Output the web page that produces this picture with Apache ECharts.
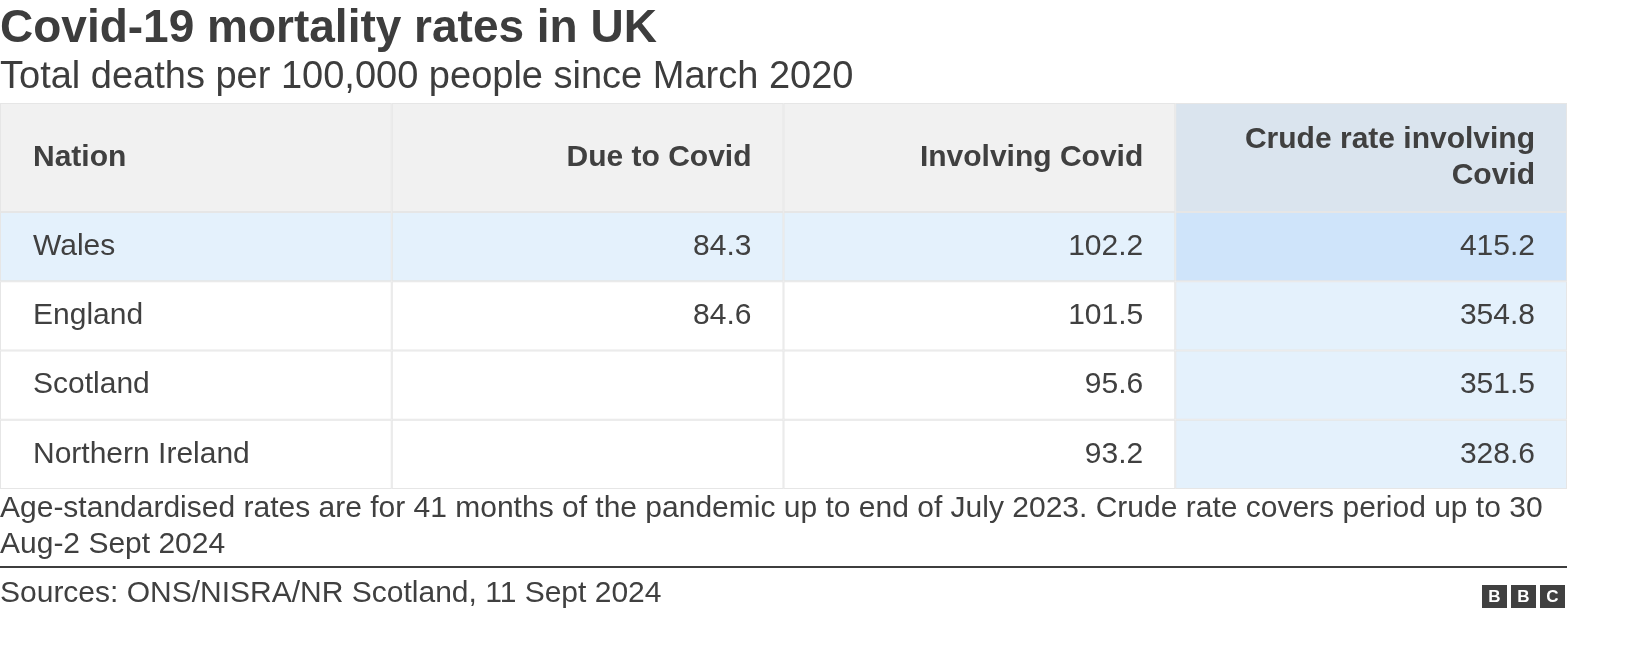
<!DOCTYPE html>
<html><head><meta charset="utf-8">
<script src="https://cdn.jsdelivr.net/npm/echarts@6/dist/echarts.min.js"></script>
<style>html,body{margin:0;padding:0;background:#fff}#c{width:1632px;height:646px}</style>
</head><body><div id="c"></div>
<script>
const headers = ['Nation', 'Due to Covid', 'Involving Covid', 'Crude rate involving\nCovid'];
const nations = ['Wales', 'England', 'Scotland', 'Northern Ireland'];
const dueToCovid = ['84.3', '84.6', '', ''];
const involvingCovid = ['102.2', '101.5', '95.6', '93.2'];
const crudeRate = ['415.2', '354.8', '351.5', '328.6'];

const cols = [nations, dueToCovid, involvingCovid, crudeRate];
const HEAD = 109, ROW = 69.25;
const data = [];
for (let c = 0; c < 4; c++) {
  data.push([c, 0, headers[c]]);
  for (let r = 0; r < nations.length; r++) data.push([c, r + 1, cols[c][r]]);
}
function bg(c, r) {
  if (r === 0) return c === 3 ? '#dae4ee' : '#f1f1f1';
  if (r === 1) return c === 3 ? '#cfe4fa' : '#e4f1fc';
  return c === 3 ? '#e4f1fc' : '#ffffff';
}
const chart = echarts.init(document.getElementById('c'));
chart.setOption({
  animation: false,
  title: [
    {text: 'Covid-19 mortality rates in UK', left: 0, top: 6, padding: 0,
     textStyle: {fontFamily: 'Liberation Sans', fontSize: 46, fontWeight: 'bold', color: '#3d3d3d'}},
    {text: 'Total deaths per 100,000 people since March 2020', left: 0, top: 59, padding: 0,
     textStyle: {fontFamily: 'Liberation Sans', fontSize: 38, fontWeight: 'normal', color: '#3d3d3d'}}
  ],
  grid: {left: 0, top: 103, width: 1567, height: HEAD + ROW * 4},
  xAxis: {type: 'value', min: 0, max: 4, show: false},
  yAxis: {type: 'value', min: 0, max: HEAD + ROW * 4, inverse: true, show: false},
  series: [{
    type: 'custom',
    data: data,
    renderItem: function (params, api) {
      const c = api.value(0), r = api.value(1);
      const y0v = r === 0 ? 0 : HEAD + ROW * (r - 1);
      const y1v = r === 0 ? HEAD : HEAD + ROW * r;
      const p0 = api.coord([c, y0v]), p1 = api.coord([c + 1, y1v]);
      const txt = data[params.dataIndex][2];
      const right = c > 0;
      return {
        type: 'group',
        children: [
          {type: 'rect', shape: {x: p0[0], y: p0[1], width: p1[0] - p0[0], height: p1[1] - p0[1]},
           style: {fill: '#e6e6e6'}},
          {type: 'rect', shape: {x: p0[0] + 1, y: p0[1] + 1, width: p1[0] - p0[0] - 2, height: p1[1] - p0[1] - 2},
           style: {fill: bg(c, r)}},
          {type: 'text', style: {
            text: txt, x: right ? p1[0] - 32 : p0[0] + 33, y: (p0[1] + p1[1]) / 2,
            align: right ? 'right' : 'left', verticalAlign: 'middle',
            font: (r === 0 ? 'bold ' : '') + '30px "Liberation Sans"', fill: '#404040', lineHeight: 36
          }}
        ]
      };
    }
  }],
  graphic: [
    {type: 'text', left: 0, top: 491, style: {
      text: 'Age-standardised rates are for 41 months of the pandemic up to end of July 2023. Crude rate covers period up to 30\nAug-2 Sept 2024',
      font: '30px "Liberation Sans"', fill: '#404040', lineHeight: 36}},
    {type: 'rect', shape: {x: 0, y: 566, width: 1567, height: 2}, style: {fill: '#3d3d3d'}},
    {type: 'text', left: 0, top: 579, style: {text: 'Sources: ONS/NISRA/NR Scotland, 11 Sept 2024',
      font: '30px "Liberation Sans"', fill: '#404040'}},
    {type: 'group', left: 1482, top: 585, children: ['B','B','C'].map((t, i) => ({
      type: 'group', x: i * 29, children: [
        {type: 'rect', shape: {x: 0, y: 0, width: 25, height: 23}, style: {fill: '#404040'}},
        {type: 'text', style: {text: t, x: 12.5, y: 12, align: 'center', verticalAlign: 'middle',
          font: 'bold 17px "Liberation Sans"', fill: '#fff'}}
      ]}))}
  ]
});
</script></body></html>
